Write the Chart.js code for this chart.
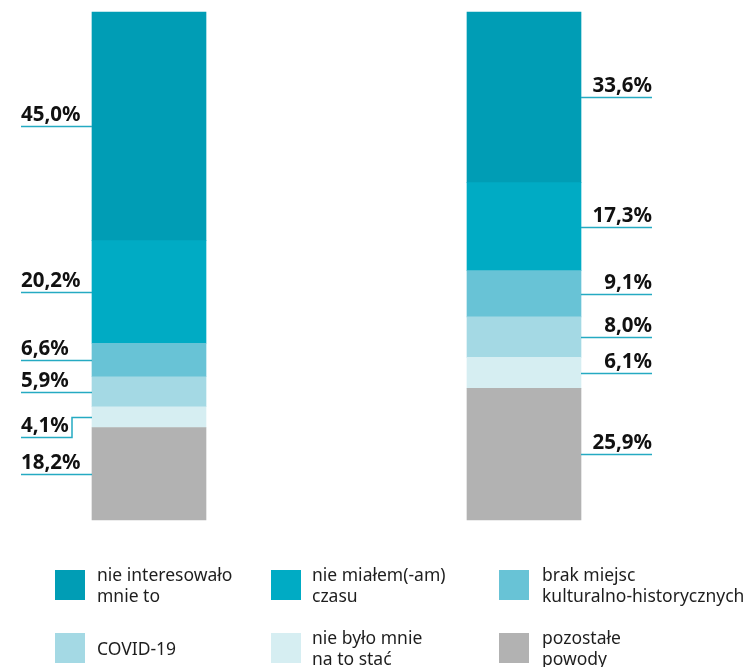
<!DOCTYPE html>
<html>
<head>
<meta charset="utf-8">
<script src="https://cdn.jsdelivr.net/npm/chart.js@4"></script>
<style>
  html, body { margin: 0; padding: 0; background: #fff; }
  #wrap { position: relative; width: 756px; height: 667px; overflow: hidden; }
  canvas { position: absolute; left: 0; top: 0; }
  .item { position: absolute; display: flex; align-items: center; height: 30px; white-space: nowrap; }
  .sw { width: 30px; height: 30px; flex: none; }
  .tx { font-family: "Noto Sans", "Open Sans", sans-serif; font-size: 17.5px; line-height: 21px; color: #1e1e1e; white-space: pre; }
</style>
</head>
<body>
<div id="wrap"><canvas id="c" width="756" height="667"></canvas></div>
<script>
// ---- data ----
const groups = ['A', 'B'];
const categories = [
  'nie interesowało\nmnie to',
  'nie miałem(-am)\nczasu',
  'brak miejsc\nkulturalno-historycznych',
  'COVID-19',
  'nie było mnie\nna to stać',
  'pozostałe\npowody'
];
const nieInteresowalo = [45.0, 33.6];
const nieMialemCzasu = [20.2, 17.3];
const brakMiejsc = [6.6, 9.1];
const covid19 = [5.9, 8.0];
const nieByloStac = [4.1, 6.1];
const pozostale = [18.2, 25.9];
const seriesValues = [nieInteresowalo, nieMialemCzasu, brakMiejsc, covid19, nieByloStac, pozostale];

// ---- style ----
const colors = ['#009db5', '#00abc4', '#68c3d6', '#a4d9e4', '#d6eef2', '#b2b2b2'];
const lineColor = '#25aac2';
// label of 'nie było mnie na to stać' on left bar is dropped down to avoid overlap
const leaderDrop = { series: 4, bar: 0, dy: 20, elbowX: 72 };

const fmt = v => v.toFixed(1).replace('.', ',') + '%';

// datasets bottom -> top (reverse of legend order)
const datasets = [];
for (let i = categories.length - 1; i >= 0; i--) {
  datasets.push({
    label: categories[i],
    data: seriesValues[i],
    backgroundColor: colors[i],
    borderWidth: 0,
    barThickness: 114,
    clip: false,
    seriesIndex: i
  });
}

const leaderPlugin = {
  id: 'leaders',
  afterDatasetsDraw(chart) {
    const ctx = chart.ctx;
    ctx.save();
    ctx.font = 'bold 20.5px "Noto Sans", "Open Sans", sans-serif';
    ctx.fillStyle = '#111';
    ctx.strokeStyle = lineColor;
    ctx.lineWidth = 1.5;
    chart.data.datasets.forEach((ds, di) => {
      const meta = chart.getDatasetMeta(di);
      meta.data.forEach((el, bi) => {
        const p = el.getProps(['x', 'y', 'base', 'width'], true);
        const cy = Math.round((p.y + p.base) / 2) + 0.5;
        const txt = fmt(ds.data[bi]);
        if (bi === 0) {
          const left = 21, barL = p.x - p.width / 2;
          let ly = cy;
          ctx.beginPath();
          if (ds.seriesIndex === leaderDrop.series && bi === leaderDrop.bar) {
            ly = cy + leaderDrop.dy;
            ctx.moveTo(barL, cy);
            ctx.lineTo(leaderDrop.elbowX, cy);
            ctx.lineTo(leaderDrop.elbowX, ly);
            ctx.lineTo(left, ly);
          } else {
            ctx.moveTo(left, ly);
            ctx.lineTo(barL, ly);
          }
          ctx.stroke();
          ctx.textAlign = 'left';
          ctx.textBaseline = 'alphabetic';
          ctx.fillText(txt, left, ly - 6);
        } else {
          const right = 652, barR = p.x + p.width / 2;
          ctx.beginPath();
          ctx.moveTo(barR, cy);
          ctx.lineTo(right, cy);
          ctx.stroke();
          ctx.textAlign = 'right';
          ctx.textBaseline = 'alphabetic';
          ctx.fillText(txt, right, cy - 6);
        }
      });
    });
    ctx.restore();
  }
};

new Chart(document.getElementById('c'), {
  type: 'bar',
  data: { labels: groups, datasets },
  options: {
    responsive: false,
    animation: false,
    layout: { padding: { left: 149, right: 232, top: 12, bottom: 147 } },
    plugins: { legend: { display: false }, tooltip: { enabled: false } },
    scales: {
      x: { stacked: true, display: false, offset: false },
      y: { stacked: true, display: false, min: 0, max: 100 }
    }
  },
  plugins: [leaderPlugin]
});

// ---- HTML legend ----
const legendPos = [
  { sx: 55, tx: 97, top: 570 },
  { sx: 271, tx: 312, top: 570 },
  { sx: 499, tx: 542, top: 570 },
  { sx: 55, tx: 97, top: 633 },
  { sx: 271, tx: 312, top: 633 },
  { sx: 499, tx: 542, top: 633 }
];
const wrap = document.getElementById('wrap');
categories.forEach((c, i) => {
  const pos = legendPos[i];
  const it = document.createElement('div');
  it.className = 'item';
  it.style.left = pos.sx + 'px';
  it.style.top = pos.top + 'px';
  const sw = document.createElement('div');
  sw.className = 'sw';
  sw.style.background = colors[i];
  const tx = document.createElement('div');
  tx.className = 'tx';
  tx.style.marginLeft = (pos.tx - pos.sx - 30) + 'px';
  tx.textContent = c;
  it.appendChild(sw);
  it.appendChild(tx);
  wrap.appendChild(it);
});
</script>
</body>
</html>
